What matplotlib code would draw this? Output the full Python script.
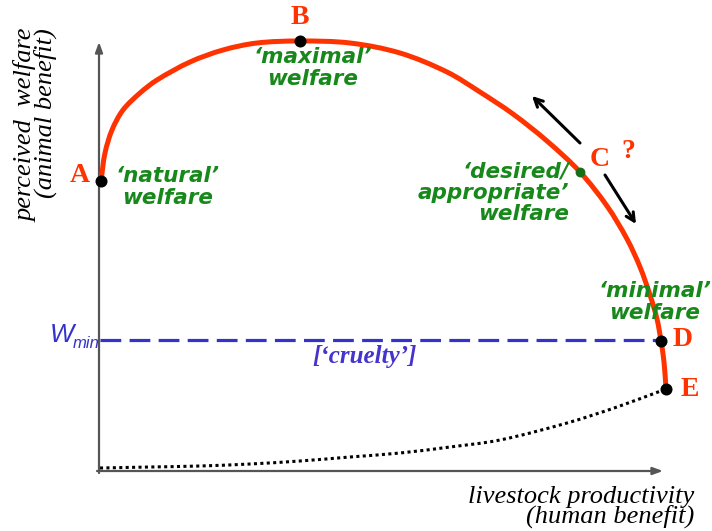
import matplotlib
matplotlib.use("Agg")
import matplotlib.pyplot as plt
from matplotlib.path import Path
from matplotlib.patches import PathPatch

# ---- data (x = livestock productivity, y = perceived welfare; arbitrary units) ----
curve_x = [1, 5, 12, 23, 40, 57, 90, 123, 157, 200, 250, 300, 347, 380, 413,
           447, 480, 507, 527, 540, 550, 557, 561, 564, 566]
curve_y = [289, 317, 340, 360, 377, 390, 408, 420, 427, 429, 427, 417, 398, 378,
           356, 329, 298, 264, 231, 203, 175, 151, 129, 108, 81]
cruelty_x = [0, 50, 100, 150, 200, 250, 300, 350, 400, 467, 517, 566]
cruelty_y = [2, 3, 4, 6, 9, 13, 17, 23, 30, 47, 63, 81]
point_names = ["A", "B", "C", "D", "E"]
point_x = [1, 200, 480, 561, 566]
point_y = [289, 429, 298, 129, 81]
w_min = 130
welfare_labels = ["\u2018natural\u2019\nwelfare", "\u2018maximal\u2019\nwelfare",
                  "\u2018desired/\nappropriate\u2019\nwelfare", "\u2018minimal\u2019\nwelfare"]

RED = "#ff3300"
GREEN = "#17891a"
BLUE = "#3333cc"


def smooth_path(xs, ys):
    """Chord-length Catmull-Rom through the points, as a matplotlib cubic Bezier path."""
    pts = list(zip(xs, ys))
    n = len(pts)
    d = [((pts[i + 1][0] - pts[i][0]) ** 2 + (pts[i + 1][1] - pts[i][1]) ** 2) ** 0.5
         for i in range(n - 1)]
    tan = []
    for i in range(n):
        if i == 0:
            tx, ty = (pts[1][0] - pts[0][0]) / d[0], (pts[1][1] - pts[0][1]) / d[0]
        elif i == n - 1:
            tx, ty = (pts[-1][0] - pts[-2][0]) / d[-1], (pts[-1][1] - pts[-2][1]) / d[-1]
        else:
            s = d[i - 1] + d[i]
            tx = (pts[i + 1][0] - pts[i - 1][0]) / s
            ty = (pts[i + 1][1] - pts[i - 1][1]) / s
        tan.append((tx, ty))
    verts = [pts[0]]
    codes = [Path.MOVETO]
    for i in range(n - 1):
        p1, p2 = pts[i], pts[i + 1]
        h = d[i] / 3.0
        c1 = (p1[0] + tan[i][0] * h, p1[1] + tan[i][1] * h)
        c2 = (p2[0] - tan[i + 1][0] * h, p2[1] - tan[i + 1][1] * h)
        verts += [c1, c2, p2]
        codes += [Path.CURVE4] * 3
    return Path(verts, codes)


fig = plt.figure(figsize=(7.12, 5.31), dpi=100)
ax = fig.add_axes([0, 0, 1, 1])
ax.set_xlim(-100, 612)
ax.set_ylim(-61, 470)
ax.axis("off")

# axes arrows
ax.annotate("", xy=(-1, 428), xytext=(-1, -3),
            arrowprops=dict(arrowstyle="-|>,head_length=0.6,head_width=0.22",
                            color="#555555", lw=1.6, shrinkA=0, shrinkB=0))
ax.annotate("", xy=(563, -1), xytext=(-3, -1),
            arrowprops=dict(arrowstyle="-|>,head_length=0.6,head_width=0.22",
                            color="#555555", lw=1.6, shrinkA=0, shrinkB=0))

# W_min dashed line
ax.plot([0, 558], [w_min, w_min], color=BLUE, lw=2.3, dashes=(6.5, 2.6),
        dash_capstyle="butt", zorder=2)

# dotted cruelty curve
ax.add_patch(PathPatch(smooth_path(cruelty_x, cruelty_y), facecolor="none",
                       edgecolor="black", lw=2.2, linestyle=(0, (1, 1.1)),
                       capstyle="butt", zorder=2))

# red welfare curve
ax.add_patch(PathPatch(smooth_path(curve_x, curve_y), facecolor="none",
                       edgecolor=RED, lw=3.6, capstyle="round",
                       joinstyle="round", zorder=3))

# points
for name, x, y in zip(point_names, point_x, point_y):
    if name == "C":
        ax.scatter([x], [y], s=50, color="#176e17", zorder=5, linewidths=0)
    else:
        ax.scatter([x], [y], s=75, color="black", zorder=5, linewidths=0)

# point letters
lab_font = dict(family="Liberation Serif", weight="bold", color=RED, fontsize=20)
ax.text(-20, 295, "A", ha="center", va="center", **lab_font)
ax.text(200, 453, "B", ha="center", va="center", **lab_font)
ax.text(500, 311, "C", ha="center", va="center", **lab_font)
ax.text(528, 318, "?", ha="center", va="center", **lab_font)
ax.text(583, 130, "D", ha="center", va="center", **lab_font)
ax.text(590, 80, "E", ha="center", va="center", **lab_font)

# green welfare labels
g_font = dict(family="DejaVu Sans", weight="bold", style="italic",
              color=GREEN, fontsize=15.5, linespacing=1.08)
ax.text(68, 283, welfare_labels[0], ha="center", va="center", multialignment="center", **g_font)
ax.text(213, 402, welfare_labels[1], ha="center", va="center", multialignment="center", **g_font)
ax.text(469, 277, welfare_labels[2], ha="right", va="center", multialignment="right", **g_font)
ax.text(555, 168, welfare_labels[3], ha="center", va="center", multialignment="center", **g_font)

# arrows near C
arr = dict(arrowstyle="->,head_length=0.6,head_width=0.3", color="black", lw=2.2,
           shrinkA=0, shrinkB=0)
ax.annotate("", xy=(432, 374), xytext=(480, 327), arrowprops=arr)
ax.annotate("", xy=(536, 246), xytext=(505, 295), arrowprops=arr)

# W_min label
ax.text(-38, 135, "W", ha="center", va="center", family="Liberation Sans",
        style="italic", color=BLUE, fontsize=18.5)
ax.text(-14, 126, "min", ha="center", va="center", family="Liberation Sans",
        style="italic", color=BLUE, fontsize=12)
ax.text(265, 113, "[\u2018cruelty\u2019]", ha="center", va="center",
        family="Liberation Serif", style="italic", weight="bold",
        color="#4433cc", fontsize=18)

# axis titles
ax.text(-64, 345, "perceived  welfare\n(animal benefit)", rotation=90,
        ha="center", va="center", multialignment="right",
        family="Liberation Serif", style="italic", fontsize=19, linespacing=0.78)
ax.text(594, -37, "livestock productivity\n(human benefit)", ha="right", va="center",
        multialignment="right", family="Liberation Serif", style="italic",
        fontsize=19, linespacing=0.78)

fig.savefig("out.png", dpi=100)
